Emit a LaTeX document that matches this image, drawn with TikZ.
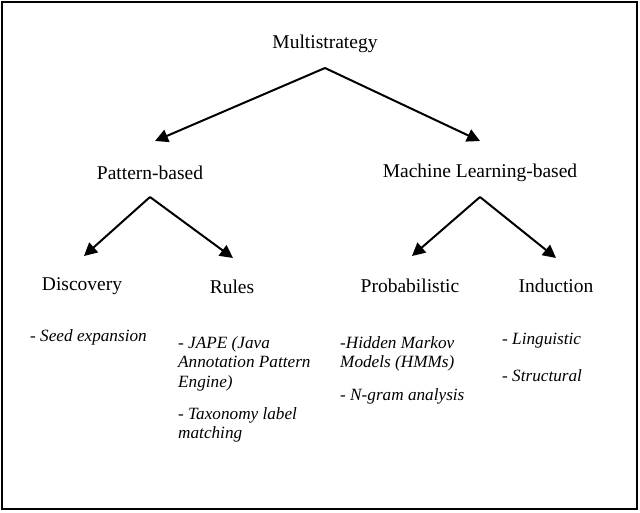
\documentclass[tikz,border=0pt]{standalone}
\usepackage{fontspec}
\setmainfont{Liberation Serif}
\usetikzlibrary{arrows.meta}
\begin{document}
\begin{tikzpicture}[x=1pt,y=-1pt,
  lab/.style={font=\fontsize{19.5}{22}\selectfont, anchor=center},
  it/.style={font=\fontsize{17.2}{19.5}\selectfont\itshape, anchor=north west, align=left, inner sep=0},
  arr/.style={line width=2pt,-{Triangle[length=13pt,width=13pt]}}]
\useasboundingbox (0,0) rectangle (640,512);
\draw[line width=2pt] (2,2) rectangle (637,509);
\node[lab] (m) at (325,44) {Multistrategy};
\node[lab] (p) at (150,173) {Pattern-based};
\node[lab] (ml) at (480,173) {Machine Learning-based};
\node[lab] (d) at (82,286) {Discovery};
\node[lab] (r) at (232,287) {Rules};
\node[lab] (pr) at (410,286) {Probabilistic};
\node[lab] (in) at (556,286) {Induction};
\coordinate (mt) at (325,68);
\coordinate (pt) at (150,197);
\coordinate (mlt) at (480,197);
\draw[arr] (mt) -- (155,141);
\draw[arr] (mt) -- (480,141);
\draw[arr] (pt) -- (84,256);
\draw[arr] (pt) -- (233,258);
\draw[arr] (mlt) -- (412,256);
\draw[arr] (mlt) -- (556,258);
\node[it] (t1) at (30,329) {- Seed expansion};
\node[it] (t2) at (178,336) {- JAPE (Java\\Annotation Pattern\\Engine)};
\node[it] (t3) at (178,407) {- Taxonomy label\\matching};
\node[it] (t4) at (340,336) {-Hidden Markov\\Models (HMMs)};
\node[it] (t5) at (340,388) {- N-gram analysis};
\node[it] (t6) at (502,333) {- Linguistic};
\node[it] (t7) at (502,369) {- Structural};
\end{tikzpicture}
\end{document}
